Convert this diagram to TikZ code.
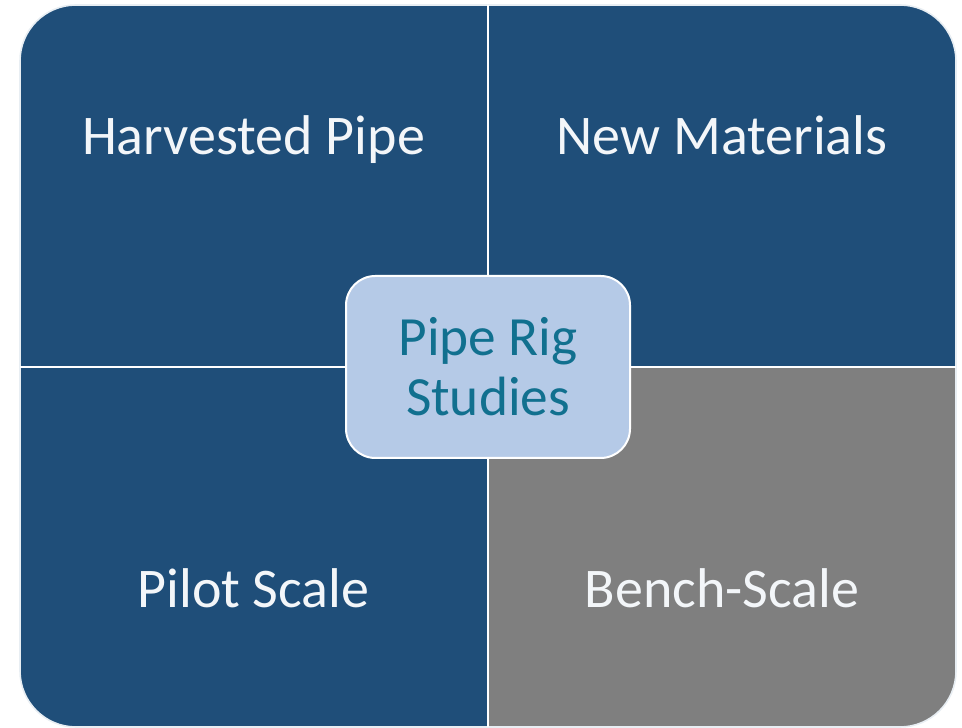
\documentclass[tikz,border=0pt]{standalone}
\usepackage{fontspec}
\setmainfont{Carlito}
\definecolor{quadblue}{RGB}{31,78,121}
\definecolor{quadgray}{RGB}{127,127,127}
\definecolor{quadtext}{RGB}{243,246,249}
\definecolor{hubfill}{RGB}{181,202,231}
\definecolor{hubtext}{RGB}{17,112,143}
\definecolor{rimcol}{RGB}{232,238,243}
\tikzset{
  quadlabel/.style={anchor=base, text=quadtext, font=\fontsize{42}{47}\selectfont},
  hub/.style={draw=white, line width=1.5pt, fill=hubfill, rounded corners=22pt,
    minimum width=213pt, minimum height=136.5pt, align=center,
    text=hubtext, font=\fontsize{41.5}{45}\selectfont}
}
\begin{document}
\begin{tikzpicture}[x=0.75pt, y=0.75pt]
  \useasboundingbox (0,0) rectangle (962,727);
  \coordinate (SW) at (20,0);
  \coordinate (NE) at (956,722);
  \coordinate (M) at (488,360);

  % the four quadrants
  \fill[quadblue, rounded corners=42pt] (SW) rectangle (NE);
  \begin{scope}
    \clip[rounded corners=42pt] (SW) rectangle (NE);
    \fill[quadgray] (M) rectangle (SW -| NE);
  \end{scope}
  \draw[rimcol, line width=1.2pt, rounded corners=42pt] (SW) rectangle (NE);
  \draw[white, line width=2pt] (SW -| M) -- (NE -| M);
  \draw[white, line width=2pt] (SW |- M) -- (NE |- M);

  \node[quadlabel] (harvested) at (253.5,572) {Harvested Pipe};
  \node[quadlabel] (newmat) at (722,572) {New Materials};
  \node[quadlabel] (pilot) at (253.5,119) {Pilot Scale};
  \node[quadlabel] (bench) at (722,119) {Bench-Scale};

  % centre box
  \node[hub] (rig) at (M) {Pipe Rig\\Studies};
\end{tikzpicture}
\end{document}
